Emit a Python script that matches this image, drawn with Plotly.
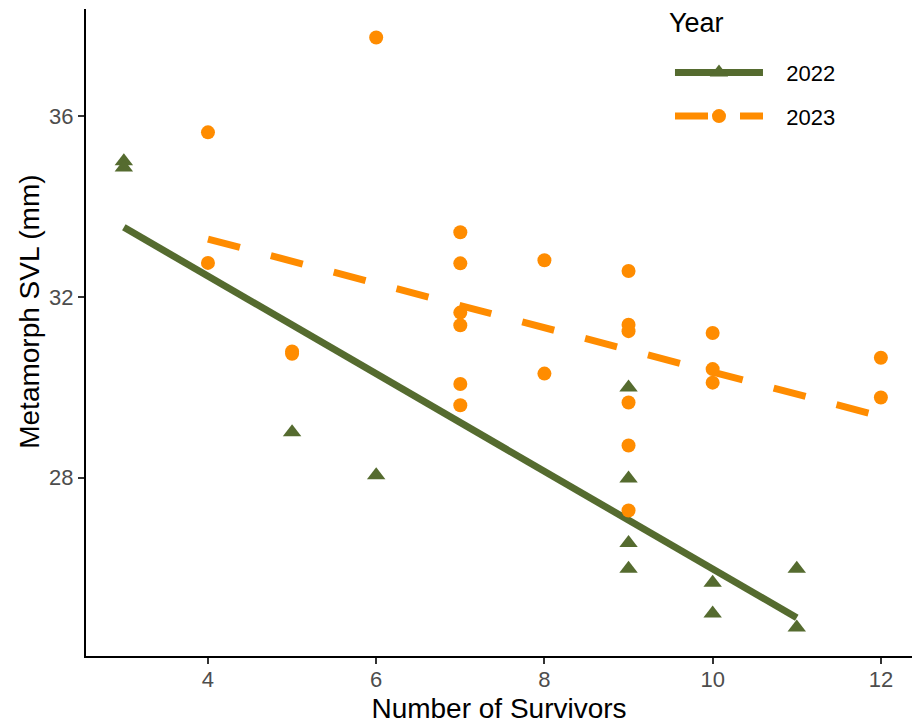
import numpy as np
import plotly.graph_objects as go

# Metamorph snout-vent length vs. number of survivors, by year
survivors_2022 = [3, 3, 5, 6, 9, 9, 9, 9, 10, 10, 11, 11]
svl_2022 = [35.00, 34.86, 29.00, 28.05, 29.99, 27.98, 26.55, 25.98, 25.67, 24.99, 25.98, 24.68]

survivors_2023 = [4, 4, 5, 5, 6, 7, 7, 7, 7, 7, 7, 8, 8,
                  9, 9, 9, 9, 9, 9, 10, 10, 10, 12, 12]
svl_2023 = [35.64, 32.75, 30.79, 30.74, 37.74, 33.43, 32.74, 31.65, 31.37, 30.07, 29.60,
            32.81, 30.30, 32.57, 31.38, 31.24, 29.66, 28.71, 27.27, 31.20, 30.40, 30.10,
            30.65, 29.77]

years = ["2022", "2023"]
x_ticks = [4, 6, 8, 10, 12]
y_ticks = [28, 32, 36]

GREEN = "#556B2F"
ORANGE = "#FF8C00"
FONT = "Liberation Sans, Arial, sans-serif"
NBSP = "\u00a0"


def lm_line(x, y):
    """Least-squares fit evaluated over the observed x range."""
    slope, intercept = np.polyfit(x, y, 1)
    xs = np.array([min(x), max(x)], dtype=float)
    return xs, slope * xs + intercept


fig = go.Figure()

series = [
    (years[0], survivors_2022, svl_2022, GREEN, "triangle-up", 16, "solid"),
    (years[1], survivors_2023, svl_2023, ORANGE, "circle", 14, "33px,32px"),
]

# fitted lines
for name, xv, yv, col, sym, size, dash in series:
    fx, fy = lm_line(xv, yv)
    fig.add_trace(go.Scatter(
        x=fx, y=fy, mode="lines", showlegend=False, hoverinfo="skip",
        line=dict(color=col, width=7, dash=dash),
    ))

# observations
for name, xv, yv, col, sym, size, dash in series:
    fig.add_trace(go.Scatter(
        x=xv, y=yv, mode="markers", showlegend=False, name=name,
        marker=dict(color=col, symbol=sym, size=size, line=dict(width=0)),
    ))

# legend keys: line + marker per year
for name, xv, yv, col, sym, size, dash in series:
    fig.add_trace(go.Scatter(
        x=[None], y=[None], mode="lines+markers", name=NBSP * 3 + name, legendgroup=name,
        line=dict(color=col, width=7, dash=dash),
        marker=dict(color=col, symbol=sym, size=size, line=dict(width=0)),
    ))

axis_common = dict(
    showline=True, linecolor="black", linewidth=2,
    ticks="outside", ticklen=6, tickwidth=2, tickcolor="#333333",
    showgrid=False, zeroline=False,
    tickfont=dict(family=FONT, size=22, color="#4D4D4D"),
    title_font=dict(family=FONT, size=28, color="black"),
)

fig.update_layout(
    width=912, height=724,
    margin=dict(l=86, r=0, t=9, b=66),
    paper_bgcolor="white", plot_bgcolor="white",
    font=dict(family=FONT),
    xaxis=dict(range=[2.55, 12.37], tickvals=x_ticks, title_text="Number of Survivors",
               title_standoff=12, ticklabelstandoff=-3, **axis_common),
    yaxis=dict(range=[24.05, 38.37], tickvals=y_ticks, **axis_common),
    legend=dict(
        x=0.707, y=0.934, xanchor="left", yanchor="top",
        bgcolor="rgba(0,0,0,0)",
        font=dict(family=FONT, size=22, color="black"),
        itemwidth=88, traceorder="grouped", tracegroupgap=12,
    ),
    annotations=[
        # y-axis title
        dict(text="Metamorph SVL (mm)", textangle=-90, showarrow=False,
             xref="paper", yref="paper", x=0, y=0.532, xshift=-56,
             xanchor="center", yanchor="middle",
             font=dict(family=FONT, size=28, color="black")),
        # legend title
        dict(text="Year", showarrow=False, xref="paper", yref="paper",
             x=(667 - 86) / 826, y=1, yshift=-14,
             xanchor="left", yanchor="middle",
             font=dict(family=FONT, size=27, color="black")),
    ],
)

fig.write_html("out.html")
